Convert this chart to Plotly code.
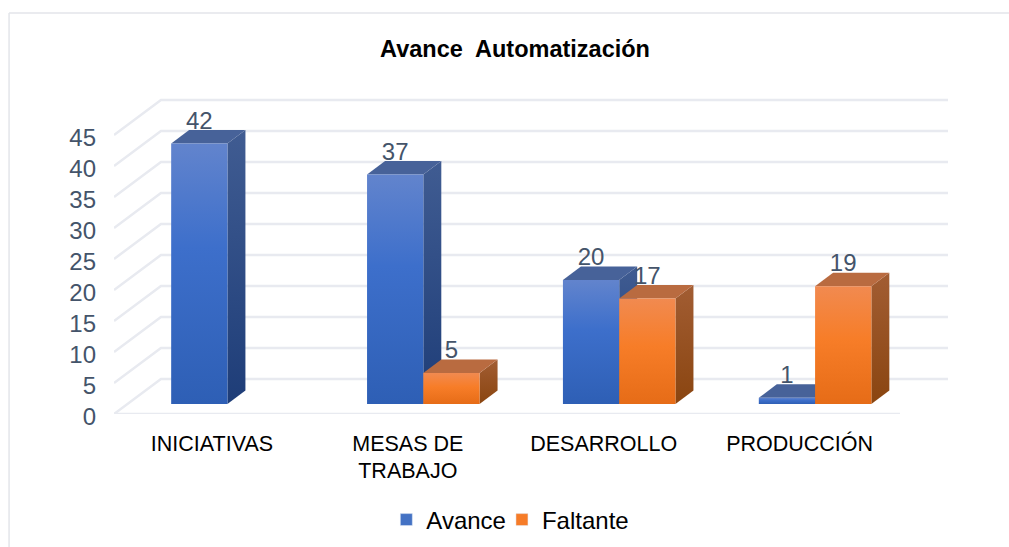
import plotly.graph_objects as go

# ---- data ----
categories = ["INICIATIVAS", "MESAS DE<br>TRABAJO", "DESARROLLO", "PRODUCCIÓN"]
avance = [42, 37, 20, 1]
faltante = [None, 5, 17, 19]
y_ticks = [0, 5, 10, 15, 20, 25, 30, 35, 40, 45]

# ---- geometry (pixels of the oblique projection) ----
W, H = 1009, 547
PX_X = 196.0          # pixels per category
PX_Y = 6.2            # pixels per value unit
LEFT, RIGHT = 113.5, 948.0
BOTTOM, TOP = 414.0, 90.0   # value axis extent
WALL_DX, WALL_DY = 47.0, 35.0
BAR_W = 56.3
BAR_FRONT_DX, BAR_FRONT_DY = 15.5, 10.0
BAR_DX, BAR_DY = 18.0, 13.5

x_range = [-(211.5 - LEFT) / PX_X, (RIGHT - 211.5) / PX_X]
y_range = [0, (BOTTOM - TOP) / PX_Y]


def paper_x(px):
    return (px - LEFT) / (RIGHT - LEFT)


def paper_y(py):
    return (BOTTOM - py) / (BOTTOM - TOP)


def proj(cat, value, dx_px=0.0, dy_px=0.0):
    """Axis coordinates of a point shifted in depth by a pixel offset."""
    return cat + dx_px / PX_X, value + dy_px / PX_Y


fig = go.Figure()

# ---- oblique gridlines ----
gx, gy = [], []
for v in y_ticks:
    a = proj(x_range[0], v)
    b = proj(x_range[0], v, WALL_DX, WALL_DY)
    c = (x_range[1], b[1])
    gx += [a[0], b[0], c[0], None]
    gy += [a[1], b[1], c[1], None]
floor_end = (900 - 211.5) / PX_X
gx += [x_range[0], floor_end, None]
gy += [0, 0, None]
fig.add_trace(go.Scatter(x=gx, y=gy, mode="lines", showlegend=False, hoverinfo="skip",
                         line=dict(color="#E8EAF0", width=2.5)))

BLUE = dict(front=[[0, "#2E5FB5"], [0.6, "#3D6FCB"], [1, "#6284CD"]],
            side=[[0, "#1E3D78"], [1, "#405C92"]], top="#476299")
ORANGE = dict(front=[[0, "#E66C17"], [0.55, "#F77D28"], [1, "#F18A50"]],
              side=[[0, "#8A4510"], [1, "#A25D33"]], top="#B96B40")


def poly(pts, **kw):
    xs = [p[0] for p in pts] + [pts[0][0]]
    ys = [p[1] for p in pts] + [pts[0][1]]
    fig.add_trace(go.Scatter(x=xs, y=ys, mode="lines", fill="toself", showlegend=False,
                             hoverinfo="skip", line=dict(width=0), **kw))


def grad(scale):
    return dict(type="vertical", colorscale=scale)


def bar(cat, value, side_sign, pal):
    w = BAR_W / PX_X
    left = cat if side_sign > 0 else cat - w
    right = left + w
    fdx, fdy = BAR_FRONT_DX, BAR_FRONT_DY
    fl = proj(left, 0, fdx, fdy)
    fr = proj(right, 0, fdx, fdy)
    tl = proj(left, value, fdx, fdy)
    tr = proj(right, value, fdx, fdy)
    btl = proj(left, value, fdx + BAR_DX, fdy + BAR_DY)
    btr = proj(right, value, fdx + BAR_DX, fdy + BAR_DY)
    bbr = proj(right, 0, fdx + BAR_DX, fdy + BAR_DY)
    poly([fr, bbr, btr, tr], fillgradient=grad(pal["side"]))
    poly([tl, tr, btr, btl], fillcolor=pal["top"])
    poly([fl, fr, tr, tl], fillgradient=grad(pal["front"]))


for i in range(len(categories)):
    bar(i, avance[i], -1, BLUE)
    if faltante[i] is not None:
        bar(i, faltante[i], 1, ORANGE)

# ---- data labels ----
lab_x, lab_y, lab_t = [], [], []
for i in range(len(categories)):
    for val, sign in ((avance[i], -1), (faltante[i], 1)):
        if val is None:
            continue
        px, py = proj(i + sign * BAR_W / 2 / PX_X, val, BAR_FRONT_DX, BAR_FRONT_DY + BAR_DY + 7.5)
        lab_x.append(px)
        lab_y.append(py)
        lab_t.append(str(val))
fig.add_trace(go.Scatter(x=lab_x, y=lab_y, text=lab_t, mode="text", showlegend=False, hoverinfo="skip",
                         textposition="middle center",
                         textfont=dict(family="Liberation Sans", size=24, color="#44546A")))

# ---- legend entries ----
fig.add_trace(go.Bar(x=[None], y=[None], name="Avance", marker_color="#4472C4"))
fig.add_trace(go.Bar(x=[None], y=[None], name="Faltante", marker_color="#F67C28"))

fig.update_layout(
    width=W, height=H, autosize=False,
    margin=dict(l=LEFT, r=W - RIGHT, t=TOP, b=H - BOTTOM, pad=0, autoexpand=False),
    paper_bgcolor="white", plot_bgcolor="rgba(0,0,0,0)",
    font=dict(family="Liberation Sans", color="#000000"),
    title=dict(text="<b>Avance  Automatización</b>", x=515 / W, xanchor="center",
               y=1 - 49 / H, yanchor="middle",
               font=dict(family="Liberation Sans", size=23.5, color="#000000")),
    xaxis=dict(range=x_range, tickmode="array", tickvals=list(range(len(categories))), ticktext=categories,
               showgrid=False, zeroline=False, showline=False, ticks="",
               ticklabelstandoff=14, tickangle=0,
               tickfont=dict(family="Liberation Sans", size=21.5, color="#000000")),
    yaxis=dict(range=y_range, tickmode="array", tickvals=y_ticks,
               showgrid=False, zeroline=False, showline=False, ticks="", ticklabelstandoff=17,
               ticklabelshift=3,
               tickfont=dict(family="Liberation Sans", size=24, color="#44546A")),
    showlegend=True,
    legend=dict(orientation="h", x=paper_x(395), xanchor="left", y=paper_y(520), yanchor="middle",
                indentation=-9,
                font=dict(family="Liberation Sans", size=24, color="#000000"),
                bgcolor="rgba(0,0,0,0)", traceorder="normal"),
    shapes=[
        dict(type="line", xref="paper", yref="paper", x0=paper_x(8.5), x1=paper_x(W), y0=paper_y(13), y1=paper_y(13),
             line=dict(color="#E3E5EA", width=1.5)),
        dict(type="line", xref="paper", yref="paper", x0=paper_x(8.5), x1=paper_x(8.5), y0=paper_y(H), y1=paper_y(13),
             line=dict(color="#E3E5EA", width=1.5)),
    ],
)

fig.write_html("out.html", config={"displayModeBar": False},
               post_script="document.body.style.margin='0';document.body.style.overflow='hidden';")
